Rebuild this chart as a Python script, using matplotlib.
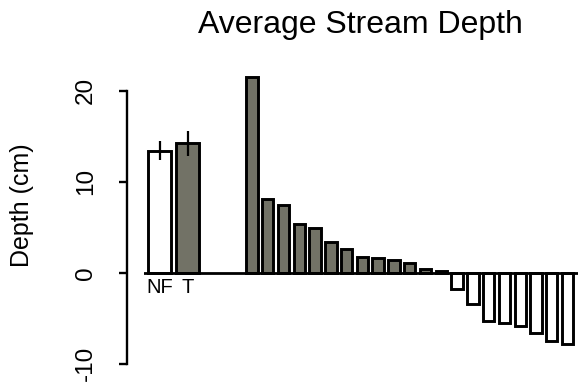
import matplotlib
matplotlib.use("Agg")
import matplotlib.pyplot as plt
import numpy as np

plt.rcParams['font.family'] = ['Liberation Sans', 'DejaVu Sans']

# Data
group_labels = ["NF", "T"]
group_means = [13.4, 14.2]
group_err = [1.05, 1.35]
group_colors = ["white", "#727266"]

stream_depths = [21.5, 8.07, 7.44, 5.35, 4.87, 3.37, 2.6, 1.76, 1.61, 1.39, 1.1,
                 0.37, 0.22, -1.79, -3.44, -5.27, -5.49, -5.82, -6.67, -7.51, -7.84]

yticks = [-10, 0, 10, 20]
title = "Average Stream Depth"
ylabel = "Depth (cm)"

GREY = "#727266"
W, H = 582, 386
fig = plt.figure(figsize=(W / 100, H / 100), dpi=100)

# axes region in pixels
x0, x1 = 144, 578
ylo, yhi = -11, 23
zero_px, per_unit = 272.7, 9.1
top_px = zero_px - yhi * per_unit
bot_px = zero_px - ylo * per_unit
ax = fig.add_axes([x0 / W, 1 - bot_px / H, (x1 - x0) / W, (bot_px - top_px) / H])
step_px = 15.78
ax.set_xlim(0, (x1 - x0) / step_px)
ax.set_ylim(ylo, yhi)

lw = 2.1
# left group
gx = 0.995 + 1.79 * np.arange(len(group_means))
ax.bar(gx, group_means, width=1.46, color=group_colors, edgecolor="black", linewidth=lw, zorder=2)
ax.vlines(gx, np.array(group_means) - np.array(group_err), np.array(group_means) + np.array(group_err),
          color="black", linewidth=1.6, zorder=3)
for x, lab in zip(gx, group_labels):
    ax.text(x, -0.6, lab, ha="center", va="top", fontsize=14.5)

# stream bars
sx = 6.84 + np.arange(len(stream_depths))
scolors = [GREY if v > 0 else "white" for v in stream_depths]
ax.bar(sx, stream_depths, width=0.72, color=scolors, edgecolor="black", linewidth=lw, zorder=2)

ax.axhline(0, color="black", linewidth=2.0, zorder=4)

for s in ["top", "right", "bottom"]:
    ax.spines[s].set_visible(False)
ax.spines["left"].set_position(("outward", 12.5))
ax.spines["left"].set_bounds(-10, 20)
ax.spines["left"].set_linewidth(1.7)
ax.set_xticks([])
ax.set_yticks(yticks)
ax.set_yticklabels([str(t) for t in yticks], rotation=90, va="center", fontsize=17.5)
ax.tick_params(axis="y", length=5.5, width=1.7, pad=16)

fig.text(22 / W, 1 - 205 / H, ylabel, rotation=90, ha="center", va="center", fontsize=18)
fig.text(360 / W, 1 - 33 / H, title, ha="center", va="baseline", fontsize=23)

fig.savefig("out.png", dpi=100)
